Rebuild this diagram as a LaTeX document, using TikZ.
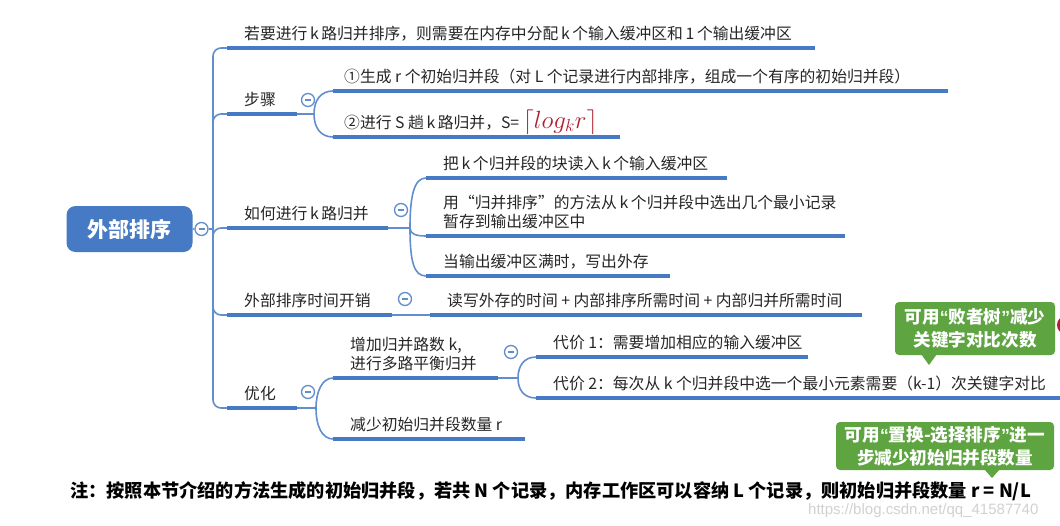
\documentclass[tikz,border=0pt]{standalone}
\usepackage{fontspec}
\setmainfont{Noto Sans CJK SC}
\newfontfamily\wmfont{Liberation Sans}
\newcommand\oq{{\wmfont “}}
\newcommand\cq{{\wmfont ”}}
\definecolor{mmblue}{RGB}{70,122,196}
\definecolor{mmline}{RGB}{98,142,206}
\definecolor{mmgreen}{RGB}{94,164,64}
\definecolor{mmred}{RGB}{176,30,48}
\definecolor{mmtext}{RGB}{38,38,38}
\newcommand\mmtopic[6][17]{%
  \coordinate (#2s) at (#3,#5);
  \coordinate (#2e) at (#4,#5);
  \draw[uline] (#2s) -- (#2e);
  \node[topic] (#2) at ({#3+#1},{#5-9}) {#6};
}
\begin{document}
\begin{tikzpicture}[x=1pt,y=-1pt,
  uline/.style={draw=mmblue, line width=4pt},
  conn/.style={draw=mmline, line width=1.6pt},
  topic/.style={anchor=base west, inner sep=0pt, align=left, text=mmtext,
    font=\fontsize{15.8}{18.5}\selectfont},
  fold/.style={circle, draw=mmline, fill=white, line width=1.3pt,
    minimum size=13pt, inner sep=0pt,
    path picture={\draw[mmline, line width=1.3pt]
      ([xshift=-3pt]path picture bounding box.center) --
      ([xshift=3pt]path picture bounding box.center);}},
  rootbox/.style={fill=mmblue, rounded corners=9pt, minimum width=126pt,
    minimum height=46pt, text=white, font=\fontsize{21}{21}\selectfont\bfseries},
  callout/.style={fill=mmgreen, rounded corners=4pt, text=white, align=center,
    font=\fontsize{17.6}{23}\selectfont\bfseries, inner sep=0pt},
]
\useasboundingbox (0,0) rectangle (1060,525);
\fill[white] (0,0) rectangle (1060,525);

% root
\node[rootbox] (root) at (129.5,229) {外部排序};
\node[fold] (f0) at (201.5,229) {};
\coordinate (trunk) at (213,229);
\draw[conn] (root.east) -- (f0.west);
\draw[conn] (f0.east) -- (trunk);

% level 1
\mmtopic{A}{227}{815}{48}{若要进行\,k\,路归并排序，则需要在内存中分配\,k\,个输入缓冲区和\,1\,个输出缓冲区}
\mmtopic{B}{227}{297}{114}{步骤}
\mmtopic{C}{227}{388}{228}{如何进行\,k\,路归并}
\mmtopic{D}{227}{392}{315}{外部排序时间开销}
\mmtopic{E}{227}{297}{408}{优化}
\foreach \t in {A,B,C,D,E}
  \draw[conn, rounded corners=8pt] (trunk) |- (\t s);

% 步骤
\mmtopic[11]{B1}{333}{948}{91}{①生成 r 个初始归并段（对 L 个记录进行内部排序，组成一个有序的初始归并段）}
\mmtopic[11]{B2}{333}{620}{137}{②进行 S 趟\,k\,路归并，S=\ {\color{mmred}\fontsize{23}{23}\selectfont$\lceil log_k r\rceil$}}
\node[fold] (fB) at (308,100) {};
\coordinate (bB) at (314,114);
\draw[conn] (Be) -- (bB);
\draw[conn] (bB) .. controls (314,100) and (321,91) .. (B1s);
\draw[conn] (bB) .. controls (314,128) and (321,137) .. (B2s);

% 如何进行k路归并
\mmtopic{C1}{426}{727}{178}{把\,k\,个归并段的块读入\,k\,个输入缓冲区}
\mmtopic{C2}{426}{845}{236}{用“归并排序”的方法从\,k\,个归并段中选出几个最小记录\\暂存到输出缓冲区中}
\mmtopic{C3}{426}{670}{276}{当输出缓冲区满时，写出外存}
\node[fold] (fC) at (401,210) {};
\coordinate (bC) at (410,228);
\draw[conn] (Ce) -- (bC);
\draw[conn] (bC) .. controls (410,196) and (414,178) .. (C1s);
\draw[conn] (bC) .. controls (410,234) and (416,236) .. (C2s);
\draw[conn] (bC) .. controls (410,262) and (414,276) .. (C3s);

% 外部排序时间开销
\mmtopic{D1}{430}{862}{315}{读写外存的时间 + 内部排序所需时间 + 内部归并所需时间}
\node[fold] (fD) at (405,299) {};
\draw[conn] (De) -- (D1s);

% 优化
\mmtopic{E1}{333}{498}{378}{增加归并路数 k,\\进行多路平衡归并}
\mmtopic{E2}{333}{525}{439}{减少初始归并段数量 r}
\node[fold] (fE) at (308,392) {};
\coordinate (bE) at (316,408);
\draw[conn] (Ee) -- (bE);
\draw[conn] (bE) .. controls (316,392) and (322,378) .. (E1s);
\draw[conn] (bE) .. controls (316,426) and (322,439) .. (E2s);

% 增加归并路数
\mmtopic{P1}{536}{808}{357}{代价 1：需要增加相应的输入缓冲区}
\mmtopic{P2}{536}{1062}{398}{代价 2：每次从 k 个归并段中选一个最小元素需要（k-1）次关键字对比}
\node[fold] (fE1) at (511,352) {};
\coordinate (bE1) at (518,378);
\draw[conn] (E1e) -- (bE1);
\draw[conn] (bE1) .. controls (518,366) and (524,357) .. (P1s);
\draw[conn] (bE1) .. controls (518,390) and (524,398) .. (P2s);

% callouts
\node[callout, minimum width=160pt, minimum height=53pt] (g1) at (975,328.5)
  {可用\oq 败者树\cq 减少\\关键字对比次数};
\fill[mmgreen] (921,354) -- (929,365) -- (937,354) -- cycle;
\node[callout, minimum width=218pt, minimum height=48pt] (g2) at (945,446)
  {可用\oq 置换-选择排序\cq 进一\\步减少初始归并段数量};
\fill[mmgreen] (984,469) -- (992,478) -- (1000,469) -- cycle;

% red mark at the right edge
\begin{scope}
  \clip (0,0) rectangle (1060,525);
  \fill[mmred] (1066,325) circle (9);
\end{scope}

% note
\node[anchor=base west, inner sep=0pt, font=\fontsize{18.2}{18}\selectfont\bfseries, text=black]
  (note) at (70,497) {注：按照本节介绍的方法生成的初始归并段，若共 N 个记录，内存工作区可以容纳 L 个记录，则初始归并段数量 r = N/L};

% watermark
\node[anchor=base west, inner sep=0pt, font=\wmfont\fontsize{15}{15}\selectfont, text=black!18]
  (wm) at (808,514) {https://blog.csdn.net/qq\_41587740};
\end{tikzpicture}
\end{document}
